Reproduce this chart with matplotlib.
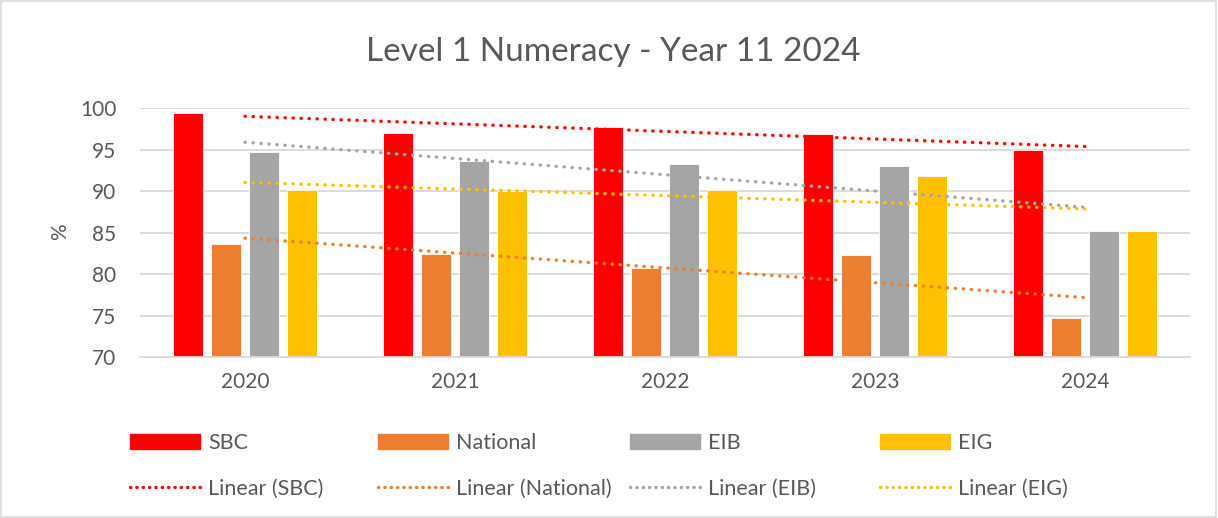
import matplotlib.pyplot as plt
from matplotlib.patches import Rectangle
from matplotlib.lines import Line2D
import numpy as np

plt.rcParams['font.family'] = ['Lato', 'DejaVu Sans']

# data
years = ['2020', '2021', '2022', '2023', '2024']
sbc = [99.4, 97.0, 97.7, 96.9, 94.9]
national = [83.6, 82.4, 80.7, 82.3, 74.7]
eib = [94.7, 93.6, 93.3, 93.0, 85.2]
eig = [90.1, 90.0, 90.1, 91.8, 85.2]

names = ['SBC', 'National', 'EIB', 'EIG']
colors = ['#FF0000', '#ED7D31', '#A5A5A5', '#FFC000']
series = [sbc, national, eib, eig]

txt = '#595959'
grid = '#D9D9D9'

fig = plt.figure(figsize=(12.18, 5.18), dpi=100)
ax = fig.add_axes([140 / 1218, 1 - 357 / 518, 1050 / 1218, 249 / 518])

x = np.arange(len(years))
width = 0.143
step = 0.181

bar_handles = []
trend_handles = []
for i, (name, col, vals) in enumerate(zip(names, colors, series)):
    ax.bar(x + (i - 1.5) * step, vals, width, color=col, zorder=2,
           edgecolor='white', linewidth=0.6)
    bar_handles.append(Rectangle((0, 0), 1, 1, color=col))

# linear trend lines, fitted on the category index
for name, col, vals in zip(names, colors, series):
    k, c = np.polyfit(x, vals, 1)
    ax.plot(x, k * x + c, color=col, lw=2.4, linestyle=(0, (0.1, 2.3)),
            dash_capstyle='round', zorder=3)
    trend_handles.append(Line2D([], [], color=col, lw=2.4, linestyle=(0, (0.1, 1.8)),
                                dash_capstyle='round'))

ax.set_xlim(-0.5, 4.5)
ax.set_ylim(70, 100)
ax.set_yticks(range(70, 101, 5))
ax.set_xticks(x)
ax.set_xticklabels(years)
ax.yaxis.grid(True, color=grid, lw=1.3, zorder=0)
ax.set_axisbelow(True)
for s in ['top', 'right', 'left']:
    ax.spines[s].set_visible(False)
ax.spines['bottom'].set_color(grid)
ax.spines['bottom'].set_linewidth(1.3)
ax.tick_params(axis='both', length=0, labelsize=15, colors=txt)
ax.tick_params(axis='y', pad=17)
ax.tick_params(axis='x', pad=11)

fig.text(60 / 1218, 1 - 232 / 518, '%', rotation=90, ha='center', va='center',
         fontsize=15, color=txt)
fig.text(613 / 1218, 1 - 52 / 518, 'Level 1 Numeracy - Year 11 2024', ha='center',
         va='center', fontsize=24, color=txt)

# legend: one small legend per column so the columns sit at fixed places
col_x = [130, 378, 630, 880]
for i, name in enumerate(names):
    fig.legend([bar_handles[i], trend_handles[i]], [name, 'Linear (%s)' % name],
               loc='upper left', bbox_to_anchor=(col_x[i] / 1218, 1 - 433 / 518),
               frameon=False, fontsize=15.5, labelcolor=txt, handlelength=3.25,
               handletextpad=0.37, borderpad=0, borderaxespad=0, labelspacing=1.2)

fig.patches.append(Rectangle((0.001, 0.002), 0.997, 0.996, transform=fig.transFigure,
                             fill=False, edgecolor=grid, lw=1.2))

fig.savefig('out.png', dpi=100)
